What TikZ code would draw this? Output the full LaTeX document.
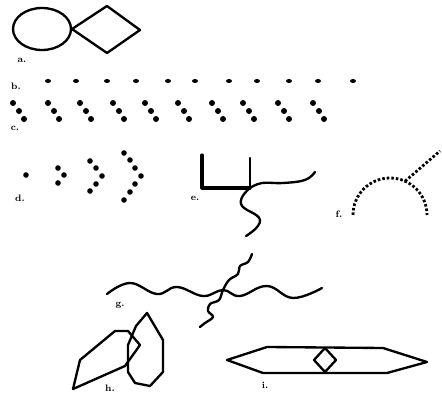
\documentclass[tikz,border=0pt]{standalone}
\usetikzlibrary{calc}
\tikzset{
  figline/.style={line width=2pt,line join=round,line cap=round},
  dotrow/.style={fill=black},
  dotarc/.style={line width=2.4pt,dash pattern=on 2.2pt off 1.7pt},
  tag/.style={font=\bfseries\footnotesize,inner sep=0pt}
}

\begin{document}
\begin{tikzpicture}[x=0.03cm,y=-0.03cm]
  \useasboundingbox (0,0) rectangle (442,398);

  % a: circle and diamond
  \draw[figline] (42,29) ellipse [x radius=29, y radius=21];
  \draw[figline] (72,29) -- (107,6) -- (140,30) -- (107,53) -- cycle;
  \node[tag] (taga) at (22,60) {a.};

  % b: row of dashes
  \foreach \x in {48,76,107,136,168,195,229,257,289,318,353}
    \fill[dotrow] (\x,81) ellipse [x radius=3, y radius=2];
  \node[tag] (tagb) at (16,86) {b.};

  % c: rows of three dots
  \foreach \x in {13,48,80,113,145,178,212,243,278,313}{
    \fill[dotrow] (\x,103) circle [radius=3];
    \fill[dotrow] (\x+6,111) circle [radius=3];
    \fill[dotrow] (\x+11,119) circle [radius=3];
  }
  \node[tag] (tagc) at (15,128) {c.};

  % d: growing chevrons of dots
  \fill[dotrow] (26,175) circle [radius=2.8];
  \foreach \p in {(58,168),(64,175),(58,183)}
    \fill[dotrow] \p circle [radius=2.8];
  \foreach \p in {(90,161),(96,168),(102,176),(96,184),(90,191)}
    \fill[dotrow] \p circle [radius=2.8];
  \foreach \p in {(124,153),(130,160),(135,168),(141,176),(135,184),(130,192),(124,200)}
    \fill[dotrow] \p circle [radius=2.8];
  \node[tag] (tagd) at (20,198) {d.};

  % e: branching stroke
  \draw[figline,line width=2.6pt] (202,155) -- (202,188) -- (250,188);
  \draw[figline] (250,158) -- (250,188);
  \draw[figline] plot[smooth,tension=0.8] coordinates
    {(250,188) (241,204) (260,220) (246,236)};
  \draw[figline] plot[smooth,tension=0.7] coordinates
    {(250,188) (262,183) (283,183) (305,180) (315,172)};
  \node[tag] (tage) at (195,198) {e.};

  % f: dotted arc with branch
  \coordinate (fjoin) at ($(390,215)+(294:37)$);
  \draw[dotarc] (353,215) arc [start angle=180, end angle=360, radius=37];
  \draw[dotarc] (fjoin) -- (440,151);
  \node[tag] (tagf) at (339,214) {f.};

  % g: crossing wavy lines
  \draw[figline] plot[smooth,tension=0.7] coordinates
    {(107,294) (130,283) (157,294) (177,287) (203,296) (223,290)
     (240,296) (267,286) (293,298) (322,288)};
  \draw[figline] plot[smooth,tension=0.6] coordinates
    {(252,254) (248,262) (240,266) (238,274) (229,280) (223,290)
     (219,300) (210,304) (208,311) (213,317) (205,323) (200,327)};
  \node[tag] (tagg) at (120,305) {g.};

  % h: overlapping polygons
  \draw[figline] (73,389) -- (80,360) -- (115,331) -- (128,331)
    -- (140,345) -- (125,366) -- cycle;
  \draw[figline] (147,313) -- (163,340) -- (163,372) -- (150,386)
    -- (135,383) -- (128,372) -- (128,345) -- (136,326) -- cycle;
  \node[tag] (tagh) at (110,388) {h.};

  % i: long hexagon with small diamond
  \draw[figline] (227,360) -- (267,347) -- (383,348) -- (427,362)
    -- (387,373) -- (263,373) -- cycle;
  \draw[figline,fill=white] (325,348) -- (336,360) -- (325,372)
    -- (314,360) -- cycle;
  \node[tag] (tagi) at (265,385) {i.};
\end{tikzpicture}
\end{document}
